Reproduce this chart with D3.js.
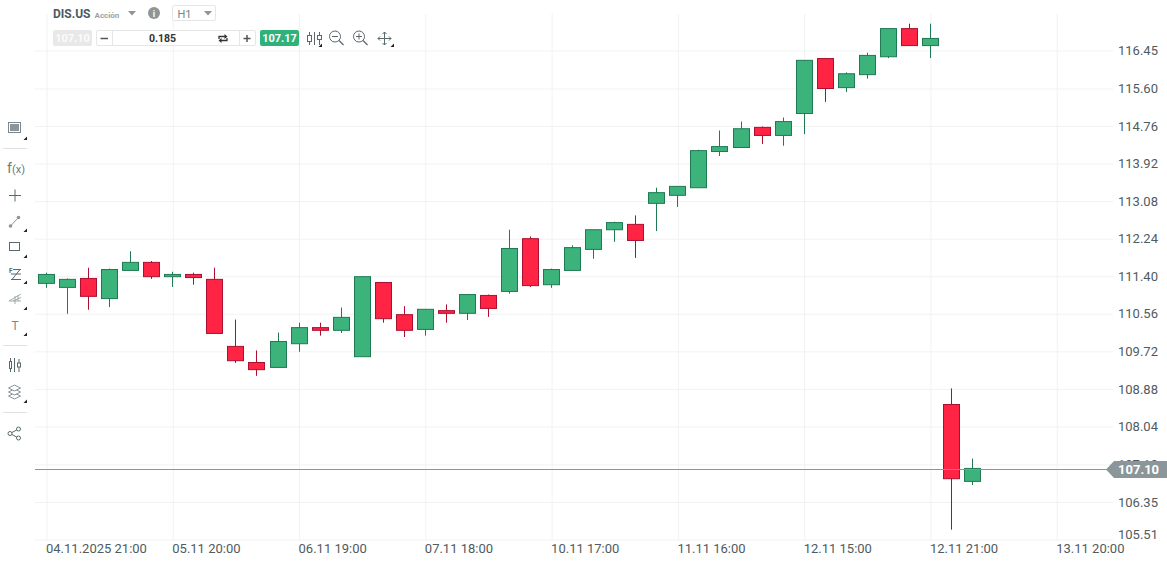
<!DOCTYPE html>
<html>
<head>
<meta charset="utf-8">
<script src="https://cdn.jsdelivr.net/npm/d3@7"></script>
<style>
  html, body { margin: 0; padding: 0; background: #fff; overflow: hidden; }
  svg { display: block; font-family: Roboto, sans-serif; }
  .axis path { display: none; }
  .grid path { display: none; }
  .grid line { stroke: #f1f2f2; stroke-width: 1; }
  .axis line { display: none; }
  .axis text { fill: #4f5b60; font-size: 13px; font-family: Roboto, sans-serif; }
</style>
</head>
<body>
<div id="chart"></div>
<script>
var times = [
  "04.11.2025 21:00",
  "05.11 15:00", "05.11 16:00", "05.11 17:00", "05.11 18:00", "05.11 19:00", "05.11 20:00", "05.11 21:00",
  "06.11 15:00", "06.11 16:00", "06.11 17:00", "06.11 18:00", "06.11 19:00", "06.11 20:00", "06.11 21:00",
  "07.11 15:00", "07.11 16:00", "07.11 17:00", "07.11 18:00", "07.11 19:00", "07.11 20:00", "07.11 21:00",
  "10.11 15:00", "10.11 16:00", "10.11 17:00", "10.11 18:00", "10.11 19:00", "10.11 20:00", "10.11 21:00",
  "11.11 15:00", "11.11 16:00", "11.11 17:00", "11.11 18:00", "11.11 19:00", "11.11 20:00", "11.11 21:00",
  "12.11 15:00", "12.11 16:00", "12.11 17:00", "12.11 18:00", "12.11 19:00", "12.11 20:00", "12.11 21:00",
  "13.11 15:00", "13.11 16:00", "13.11 17:00", "13.11 18:00", "13.11 19:00", "13.11 20:00"
];
var opens = [111.24,111.15,111.35,110.90,111.53,111.71,111.39,111.44,111.33,109.83,109.47,109.36,109.89,110.25,110.19,
  109.60,111.26,110.54,110.21,110.63,110.57,110.97,111.06,112.24,111.21,111.53,112.00,112.44,112.56,113.03,
  113.21,113.38,114.19,114.28,114.73,114.55,115.04,116.27,115.62,115.91,116.31,116.94,116.56,108.53,106.81];
var highs = [111.48,111.35,111.59,111.57,111.96,111.74,111.50,111.48,111.59,110.43,109.74,110.14,110.36,110.36,110.70,
  111.39,111.26,110.73,110.66,110.77,110.99,110.99,112.44,112.29,111.57,112.09,112.44,112.62,112.76,113.38,
  113.41,114.23,114.66,114.86,114.75,114.95,116.23,116.27,115.96,116.40,116.94,117.05,117.05,108.89,107.32];
var lows = [111.14,110.56,110.65,110.71,111.53,111.34,111.16,111.21,110.12,109.46,109.17,109.36,109.71,110.07,110.13,
  109.60,110.36,110.04,110.07,110.36,110.42,110.49,111.01,111.16,111.14,111.53,111.79,112.17,111.81,112.41,
  112.95,113.38,114.09,114.28,114.36,114.32,114.58,115.30,115.52,115.82,116.28,116.56,116.28,105.73,106.73];
var closes = [111.44,111.33,110.95,111.55,111.71,111.39,111.44,111.37,110.12,109.51,109.31,109.94,110.25,110.19,110.48,
  111.39,110.45,110.19,110.66,110.57,110.99,110.68,112.02,111.19,111.55,112.04,112.44,112.60,112.20,113.27,
  113.41,114.21,114.30,114.70,114.55,114.86,116.23,115.60,115.93,116.34,116.94,116.56,116.72,106.87,107.10];
var priceTicks = [116.45,115.60,114.76,113.92,113.08,112.24,111.40,110.56,109.72,108.88,108.04,107.19,106.35,105.51];
var timeTicks = ["04.11.2025 21:00","05.11 20:00","06.11 19:00","07.11 18:00","10.11 17:00","11.11 16:00","12.11 15:00","12.11 21:00","13.11 20:00"];
var lastPrice = 107.10;

var candles = opens.map(function(o, i) {
  return {time: times[i], open: o, high: highs[i], low: lows[i], close: closes[i]};
});

var width = 1167, height = 565;

var x = d3.scalePoint().domain(times).range([46.5, 1056.7]);
var y = d3.scaleLinear().domain([105.51, 116.45]).range([539.5, 50.5]);

var svg = d3.select("#chart").append("svg").attr("width", width).attr("height", height);

// grid first, everything else sits on it
svg.append("g").attr("class", "grid")
    .attr("transform", "translate(0,539.5)")
    .call(d3.axisBottom(x).tickValues(timeTicks).tickSize(-526).tickFormat(""));
svg.append("g").attr("class", "grid")
    .attr("transform", "translate(35,0)")
    .call(d3.axisRight(y).tickValues(priceTicks).tickSize(1078).tickFormat(""));

// time axis, labels start at the grid line
var xAxisG = svg.append("g").attr("class", "axis")
    .attr("transform", "translate(0,541)")
    .call(d3.axisBottom(x).tickValues(timeTicks).tickSize(0).tickPadding(3)
      .tickFormat(function(d) { return d; }));
xAxisG.selectAll("text").attr("text-anchor", "start").attr("dx", -1);

// price axis
var yAxisG = svg.append("g").attr("class", "axis")
    .attr("transform", "translate(1118,0)")
    .call(d3.axisRight(y).tickValues(priceTicks).tickSize(0).tickPadding(0)
      .tickFormat(d3.format(".2f")));
yAxisG.selectAll(".tick").filter(function(d) { return d === 105.51; })
    .select("text").attr("dy", "-0.1em");

// candles
var GREEN = "#3cb37a", GREEN_DARK = "#1f7a54", RED = "#ff2344", RED_DARK = "#ac1030";
var bodyWidth = 16;
function cx(d) { return Math.floor(x(d.time)) + 0.5; }
var candle = svg.append("g").selectAll("g").data(candles).enter().append("g");
candle.append("line")
    .attr("x1", cx)
    .attr("x2", cx)
    .attr("y1", function(d) { return y(d.high); })
    .attr("y2", function(d) { return y(d.low); })
    .attr("stroke", function(d) { return d.close >= d.open ? GREEN_DARK : RED_DARK; });
candle.append("rect")
    .attr("x", function(d) { return cx(d) - bodyWidth / 2; })
    .attr("width", bodyWidth)
    .attr("y", function(d) { return y(Math.max(d.open, d.close)); })
    .attr("height", function(d) { return Math.abs(y(d.open) - y(d.close)); })
    .attr("fill", function(d) { return d.close >= d.open ? GREEN : RED; })
    .attr("stroke", function(d) { return d.close >= d.open ? GREEN_DARK : RED_DARK; });

// last price line and tag
var TAG = "#8a9699";
var ly = Math.round(y(lastPrice)) + 1.5;
svg.append("line").attr("x1", 35).attr("x2", 1112).attr("y1", ly).attr("y2", ly)
    .attr("stroke", TAG).attr("stroke-width", 1);
svg.append("path")
    .attr("d", "M1106," + ly + "l8,-8.5h53v17h-53z")
    .attr("fill", TAG);
svg.append("text").attr("x", 1118).attr("y", ly + 4.5)
    .attr("fill", "#fff").attr("font-size", 13).attr("font-weight", 700)
    .text(d3.format(".2f")(lastPrice));

// top bar
var header = svg.append("g");
function label(g, tx, ty, str, size, color, weight, anchor) {
  g.append("text").attr("x", tx).attr("y", ty).attr("font-size", size).attr("fill", color)
    .attr("font-weight", weight || 400).attr("text-anchor", anchor || "start").text(str);
}
function tri(g, px, py, w, h, color) {
  g.append("path").attr("d", "M" + px + "," + py + "h" + w + "l" + (-w / 2) + "," + h + "z").attr("fill", color);
}
function corner(g, px, py) {
  g.append("path").attr("d", "M" + px + "," + py + "v-3.5l-3.5,3.5z").attr("fill", "#222");
}
label(header, 53, 18, "DIS.US", 12, "#4a5a62", 700);
label(header, 94.5, 17.5, "Acción", 8, "#9aa2a5", 700);
tri(header, 128, 11, 8, 4.5, "#8c9598");
header.append("circle").attr("cx", 154).attr("cy", 13).attr("r", 6).attr("fill", "#8c9598");
label(header, 154, 17, "i", 9, "#fff", 700, "middle");
header.append("rect").attr("x", 172.5).attr("y", 5.5).attr("width", 43).attr("height", 15).attr("rx", 1.5)
    .attr("fill", "#fff").attr("stroke", "#e4e6e7");
label(header, 177.5, 17.5, "H1", 11, "#78848a");
tri(header, 204, 11, 8, 4.5, "#8c9598");

header.append("rect").attr("x", 53).attr("y", 30).attr("width", 39).attr("height", 16).attr("rx", 2).attr("fill", "#e8e8e8");
label(header, 72.5, 42, "107.10", 11, "#fbfbfb", 700, "middle");
header.append("rect").attr("x", 96.5).attr("y", 30.5).attr("width", 159).attr("height", 15).attr("rx", 1.5)
    .attr("fill", "#fff").attr("stroke", "#e4e6e7");
header.append("line").attr("x1", 112.5).attr("x2", 112.5).attr("y1", 30.5).attr("y2", 45.5).attr("stroke", "#e4e6e7");
header.append("line").attr("x1", 239.5).attr("x2", 239.5).attr("y1", 30.5).attr("y2", 45.5).attr("stroke", "#e4e6e7");
header.append("line").attr("x1", 100.5).attr("x2", 108).attr("y1", 38.5).attr("y2", 38.5).attr("stroke", "#555").attr("stroke-width", 1.5);
header.append("path").attr("d", "M243.5,38.5h7M247,35v7").attr("stroke", "#555").attr("stroke-width", 1.5).attr("fill", "none");
label(header, 162.5, 42, "0.185", 10.5, "#333", 700, "middle");
// swap arrows
header.append("path").attr("d", "M219,39v-2.5h6M227,38v2.5h-6").attr("stroke", "#333").attr("stroke-width", 1.3).attr("fill", "none");
header.append("path").attr("d", "M224.5,34v5l3,-2.5zM221.5,38v5l-3,-2.5z").attr("fill", "#333");
header.append("rect").attr("x", 260).attr("y", 30).attr("width", 39).attr("height", 16).attr("rx", 2).attr("fill", "#2fb27a");
label(header, 279.5, 42, "107.17", 11, "#fff", 700, "middle");

var ICON = "#5b686e";
// candle type icon
header.append("path").attr("d", "M309.5,32v13M314.5,32v13M319.5,32v13").attr("stroke", ICON).attr("fill", "none");
header.append("rect").attr("x", 307.5).attr("y", 35.5).attr("width", 4).attr("height", 6).attr("fill", "#fff").attr("stroke", ICON);
header.append("rect").attr("x", 317.5).attr("y", 35.5).attr("width", 4).attr("height", 4).attr("fill", "#fff").attr("stroke", ICON);
corner(header, 322, 47);
// zoom out, zoom in
[[335, false], [359, true]].forEach(function(z) {
  header.append("circle").attr("cx", z[0]).attr("cy", 36.5).attr("r", 5.5).attr("fill", "none").attr("stroke", ICON);
  header.append("path").attr("d", "M" + (z[0] + 4) + ",40.5l4.5,4.5").attr("stroke", ICON).attr("stroke-width", 1.2);
  header.append("path").attr("d", "M" + (z[0] - 3) + ",36.5h6" + (z[1] ? "M" + z[0] + ",33.5v6" : "")).attr("stroke", ICON);
});
// move
header.append("path").attr("d", "M378,38.5h13M384.5,32v13M384.5,32l-2,2M384.5,32l2,2M384.5,45l-2,-2M384.5,45l2,-2M378,38.5l2,-2M378,38.5l2,2M391,38.5l-2,-2M391,38.5l-2,2")
    .attr("stroke", ICON).attr("fill", "none");
corner(header, 394, 47);

// left tool bar
var tools = svg.append("g");
tools.append("rect").attr("x", 8.5).attr("y", 122.5).attr("width", 12).attr("height", 10).attr("fill", "#fff").attr("stroke", "#7c888d");
tools.append("rect").attr("x", 10).attr("y", 124).attr("width", 9).attr("height", 7).attr("fill", "#8a9699");
corner(tools, 27, 140);
[148.5, 345.5, 412.5].forEach(function(sy) {
  tools.append("line").attr("x1", 3).attr("x2", 27).attr("y1", sy).attr("y2", sy).attr("stroke", "#dfe2e3");
});
label(tools, 7, 173, "f", 14, "#6c787d");
label(tools, 12, 173, "(x)", 11, "#6c787d");
tools.append("path").attr("d", "M9,195.5h12M15,189.5v12").attr("stroke", ICON);
corner(tools, 27, 232);
tools.append("path").attr("d", "M10.5,226l8,-8.5").attr("stroke", "#8a9699");
tools.append("circle").attr("cx", 10.5).attr("cy", 226).attr("r", 1.8).attr("fill", "#8a9699");
tools.append("circle").attr("cx", 18.5).attr("cy", 217.5).attr("r", 1.8).attr("fill", "#8a9699");
tools.append("rect").attr("x", 9.5).attr("y", 242.5).attr("width", 10).attr("height", 8).attr("fill", "none").attr("stroke", ICON);
corner(tools, 27, 258);
label(tools, 9, 273, "F", 6.5, ICON, 700);
tools.append("path").attr("d", "M13,269.5h8M11,274h10M11,279.5h10M20,269.5l-8,10").attr("stroke", ICON).attr("fill", "none");
corner(tools, 27, 284);
tools.append("path").attr("d", "M9,301l12,-7M9,301h12M13,301l8,-3.5M15,296v8M18,295v6").attr("stroke", "#a2acaf").attr("fill", "none");
corner(tools, 27, 310);
// T stays a real text, only lighter
label(tools, 15, 330, "T", 12, "#7c888d", 400, "middle");
corner(tools, 27, 336);
tools.append("path").attr("d", "M14.5,358v14M10.5,358v14M19,359v13").attr("stroke", ICON);
tools.append("rect").attr("x", 9.5).attr("y", 361.5).attr("width", 2).attr("height", 7).attr("fill", "#fff").attr("stroke", ICON);
tools.append("rect").attr("x", 17.5).attr("y", 363).attr("width", 3).attr("height", 4).attr("fill", "#fff").attr("stroke", ICON);
[396, 392, 388].forEach(function(ly2) {
  tools.append("path").attr("d", "M8.5," + ly2 + "l6,-3l6,3l-6,3z").attr("fill", "#fff").attr("stroke", "#8a9699");
});
corner(tools, 27, 403);
tools.append("path").attr("d", "M10,433.5l8.5,-4.5M10,433.5l8.5,4.5").attr("stroke", ICON);
[[10, 433.5], [18.5, 429], [18.5, 438]].forEach(function(p) {
  tools.append("circle").attr("cx", p[0]).attr("cy", p[1]).attr("r", 2).attr("fill", "#fff").attr("stroke", ICON);
});
</script>
</body>
</html>
